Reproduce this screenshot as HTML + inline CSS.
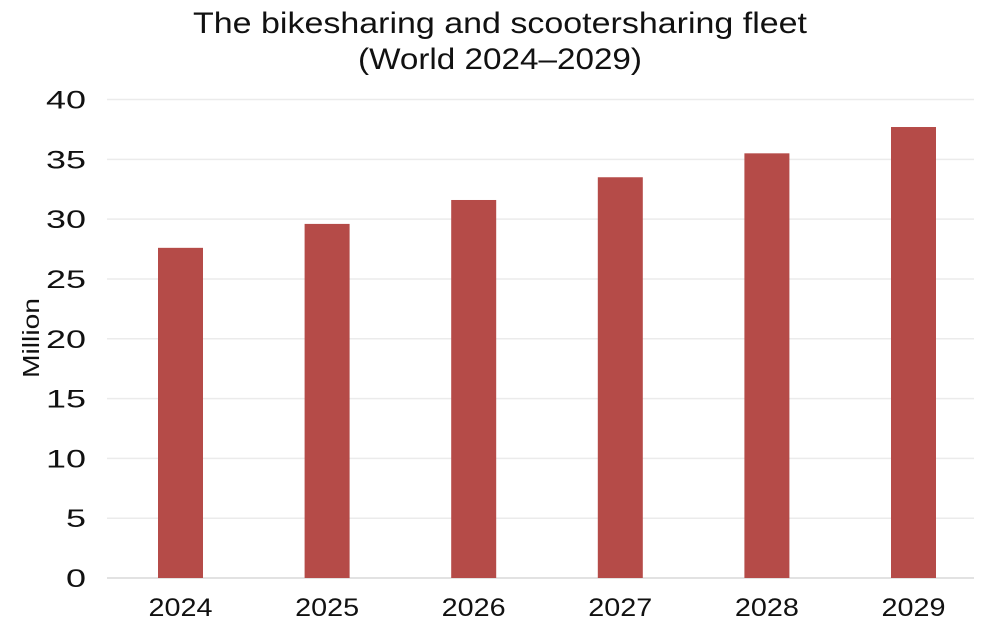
<!DOCTYPE html>
<html><head><meta charset="utf-8"><style>
body{margin:0;background:#fff;}
svg{display:block;font-family:"Liberation Sans",sans-serif;}
</style></head><body>
<svg id="chart" width="1000" height="639">
<text x="500" y="33" text-anchor="middle" font-size="30" fill="#111" textLength="614" lengthAdjust="spacingAndGlyphs">The bikesharing and scootersharing fleet</text>
<text x="500" y="69" text-anchor="middle" font-size="30" fill="#111" textLength="284" lengthAdjust="spacingAndGlyphs">(World 2024–2029)</text>
<text transform="translate(39,338) rotate(-90)" text-anchor="middle" font-size="23" fill="#111" textLength="80" lengthAdjust="spacingAndGlyphs">Million</text>
<g id="grid"></g><g id="bars"></g><g id="yt"></g><g id="xt"></g>
</svg>
<script>
const categories=["2024","2025","2026","2027","2028","2029"];
const values=[27.6,29.6,31.6,33.5,35.5,37.7];
const yTicks=[0,5,10,15,20,25,30,35,40];
const NS="http://www.w3.org/2000/svg";
const y0=578,y1=99.5,yMax=40;
const y=v=>y0-(v/yMax)*(y0-y1);
const bandStart=107.2,band=146.6,bw=45;
const x=i=>bandStart+band*(i+0.5);
function mk(t,a,p){const e=document.createElementNS(NS,t);for(const k in a)e.setAttribute(k,a[k]);p.appendChild(e);return e;}
const g=document.getElementById('grid'),yt=document.getElementById('yt'),xt=document.getElementById('xt'),bars=document.getElementById('bars');
yTicks.forEach(v=>{
 const l=mk('line',{x1:107,x2:974,y1:y(v),y2:y(v),stroke:v===0?'#d9d9d9':'#ebebeb','stroke-width':1.5},g);
 
 
 const s=String(v);
 const t=mk('text',{x:86,y:y(v)+9,'text-anchor':'end','font-size':25,fill:'#111',textLength:s.length*20,lengthAdjust:'spacingAndGlyphs'},yt);
 t.textContent=s;
 
 
});
categories.forEach((c,i)=>{
 const r=mk('rect',{x:x(i)-bw/2,y:y(values[i]),width:bw,height:y0-y(values[i]),fill:'#b54b48'},bars);
 
 
 const t=mk('text',{x:x(i),y:616,'text-anchor':'middle','font-size':25,fill:'#111',textLength:64,lengthAdjust:'spacingAndGlyphs'},xt);
 t.textContent=c;
 
 
});
</script>
</body></html>
